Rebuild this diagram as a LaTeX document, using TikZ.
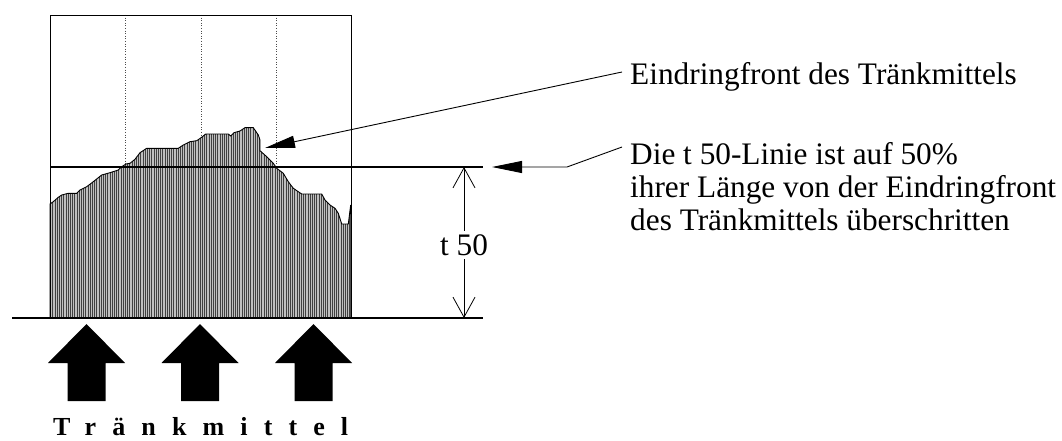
\documentclass[tikz,border=0pt]{standalone}
\usepackage{fontspec}
\setmainfont{Liberation Serif}
\newfontfamily\spacedfont[LetterSpace=62]{Liberation Serif}
\usetikzlibrary{arrows.meta,patterns.meta}
\tikzset{
  lbl/.style={inner sep=0pt, font=\fontsize{31.3}{33}\selectfont},
  thinline/.style={line width=0.9pt, black},
  leader/.style={line width=0.9pt, black, -{Triangle[length=30pt,width=12pt]}},
  dimline/.style={line width=0.8pt, black, {Straight Barb[length=20pt,width=22pt]}-{Straight Barb[length=20pt,width=22pt]}},
  blockarrow/.style={fill=black},
  hatch/.style={pattern={Lines[angle=90,distance=2.2pt,line width=0.9pt]}, pattern color=black!75},
}
\begin{document}
\begin{tikzpicture}[x=1pt,y=-1pt]
\useasboundingbox (0,0) rectangle (1062,441);
% dotted guide lines
\foreach \gx in {125,201,276}{
  \draw[dotted, black!70, line width=0.6pt] (\gx,15) -- (\gx,318);
}
% profile
\def\profile{(50,318) -- (50,204) -- (53.3,201.7) -- (58.3,197.3) -- (61.7,195) -- (68.3,193.3) -- (76.7,193.3) -- (80,190) -- (86.7,186.7) -- (93.3,181.7) -- (101.7,175) -- (110,172.7) -- (118.3,170) -- (121.7,166.7) -- (126,164) -- (130,163.3) -- (135,159.3) -- (140,152.7) -- (146.7,148.3) -- (178.3,148.3) -- (183.3,145) -- (190,141.7) -- (196.7,140.7) -- (201.7,137.3) -- (205.7,134) -- (228.3,134) -- (230.7,136) -- (234,132.7) -- (240,131) -- (245,127.7) -- (253.3,127.7) -- (258.3,135) -- (260,140) -- (260,150.7) -- (266.7,156.7) -- (273.3,163.3) -- (276.7,168.3) -- (283.3,173.3) -- (288.3,181.7) -- (293.3,188.3) -- (301.7,194) -- (321.7,194) -- (325,200) -- (330,205) -- (335,208.3) -- (338.3,213.3) -- (341.7,224) -- (348.3,224) -- (350.7,205) -- (350.7,318) -- cycle}
\fill[black!25] \profile;
\fill[hatch] \profile;
\draw[line width=0.9pt, black, line join=miter] \profile;
% box
\draw[thinline] (50,15) rectangle (351.5,318);
% base line and t50 line
\coordinate (bl) at (12,318);
\coordinate (br) at (483,318);
\coordinate (tl) at (50,167);
\coordinate (tr) at (483,167);
\draw[line width=1.2pt] (bl) -- (br);
\draw[line width=1.4pt] (tl) -- (tr);
% dimension
\coordinate (dtop) at (464,167);
\coordinate (dbot) at (464,318);
\draw[dimline] (dtop) -- (dbot);
\node[lbl, fill=white, inner sep=3pt] (t50) at (464,245) {t 50};
% texts
\node[lbl, anchor=base west] (eintxt) at (630,85) {Eindringfront des Tränkmittels};
\node[lbl, anchor=north west, align=left] (dietxt) at (630,142.5) {Die t 50-Linie ist auf 50\%\\ihrer Länge von der Eindringfront\\des Tränkmittels überschritten};
% leaders
\coordinate (e0) at (622,72);
\coordinate (e1) at (265,148);
\draw[leader] (e0) -- (e1);
\coordinate (d0) at (622,147);
\coordinate (d1) at (567,167);
\coordinate (d2) at (492,167);
\draw[leader] (d0) -- (d1) -- (d2);
% block arrows
\foreach \cx/\nm in {86.5/a1,200/a2,313.5/a3}{
  \fill[blockarrow] (\cx,324) -- (\cx+38.5,363) -- (\cx+19,363) -- (\cx+19,401) -- (\cx-19,401) -- (\cx-19,363) -- (\cx-38.5,363) -- cycle;
}
\node[inner sep=0pt, anchor=base west, font=\spacedfont\bfseries\fontsize{26}{28}\selectfont] (traenk) at (53,435) {Tränkmittel};
\end{tikzpicture}
\end{document}
